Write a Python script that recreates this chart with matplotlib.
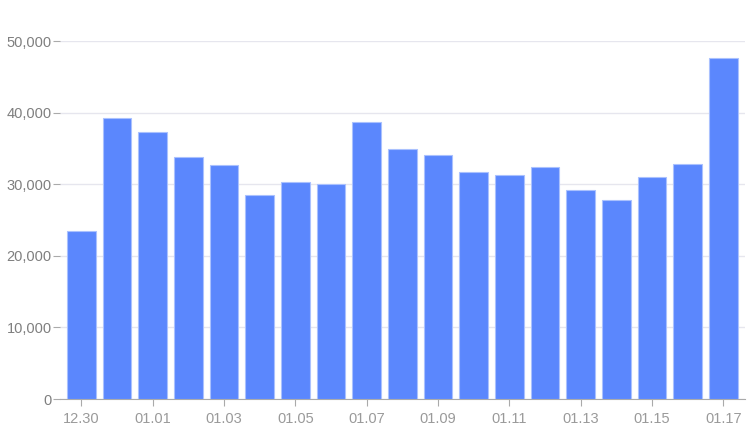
import numpy as np
import matplotlib.pyplot as plt
from matplotlib.ticker import FuncFormatter

plt.rcParams["font.family"] = ["Liberation Sans", "DejaVu Sans"]

# Dados
dates = ["12.30", "12.31", "01.01", "01.02", "01.03", "01.04", "01.05", "01.06",
         "01.07", "01.08", "01.09", "01.10", "01.11", "01.12", "01.13", "01.14",
         "01.15", "01.16", "01.17"]
values = [23500, 39200, 37300, 33800, 32700, 28500, 30300, 30050,
          38700, 34900, 34100, 31750, 31250, 32400, 29200, 27800,
          31050, 32800, 47650]

fig = plt.figure(figsize=(7.5, 4.34), dpi=100)
ax = fig.add_axes([0.08, 0.0806, 0.913, 0.8249])

x = np.arange(len(dates))
ax.bar(x, values, width=0.8, color="#5b87fd", edgecolor="#aac1fe", linewidth=0.8, zorder=3)

ax.set_xlim(-0.6, len(dates) - 0.4)
ax.set_ylim(0, 50000)
ax.set_yticks(np.arange(0, 50001, 10000))
ax.yaxis.set_major_formatter(FuncFormatter(lambda v, p: f"{int(v):,}"))
ax.set_xticks(x[::2])
ax.set_xticklabels(dates[::2])

ax.grid(axis="y", color="#e6e6ee", linewidth=1, zorder=0)
for s in ["top", "right", "left"]:
    ax.spines[s].set_visible(False)
ax.spines["bottom"].set_color("#aaaaaa")
ax.tick_params(axis="y", length=5, color="#aaaaaa", labelcolor="#7f7f7f", labelsize=10.5, pad=1)
ax.tick_params(axis="x", length=5, color="#aaaaaa", labelcolor="#9a9a9a", labelsize=10.5, pad=4)

fig.savefig("out.png", dpi=100)
